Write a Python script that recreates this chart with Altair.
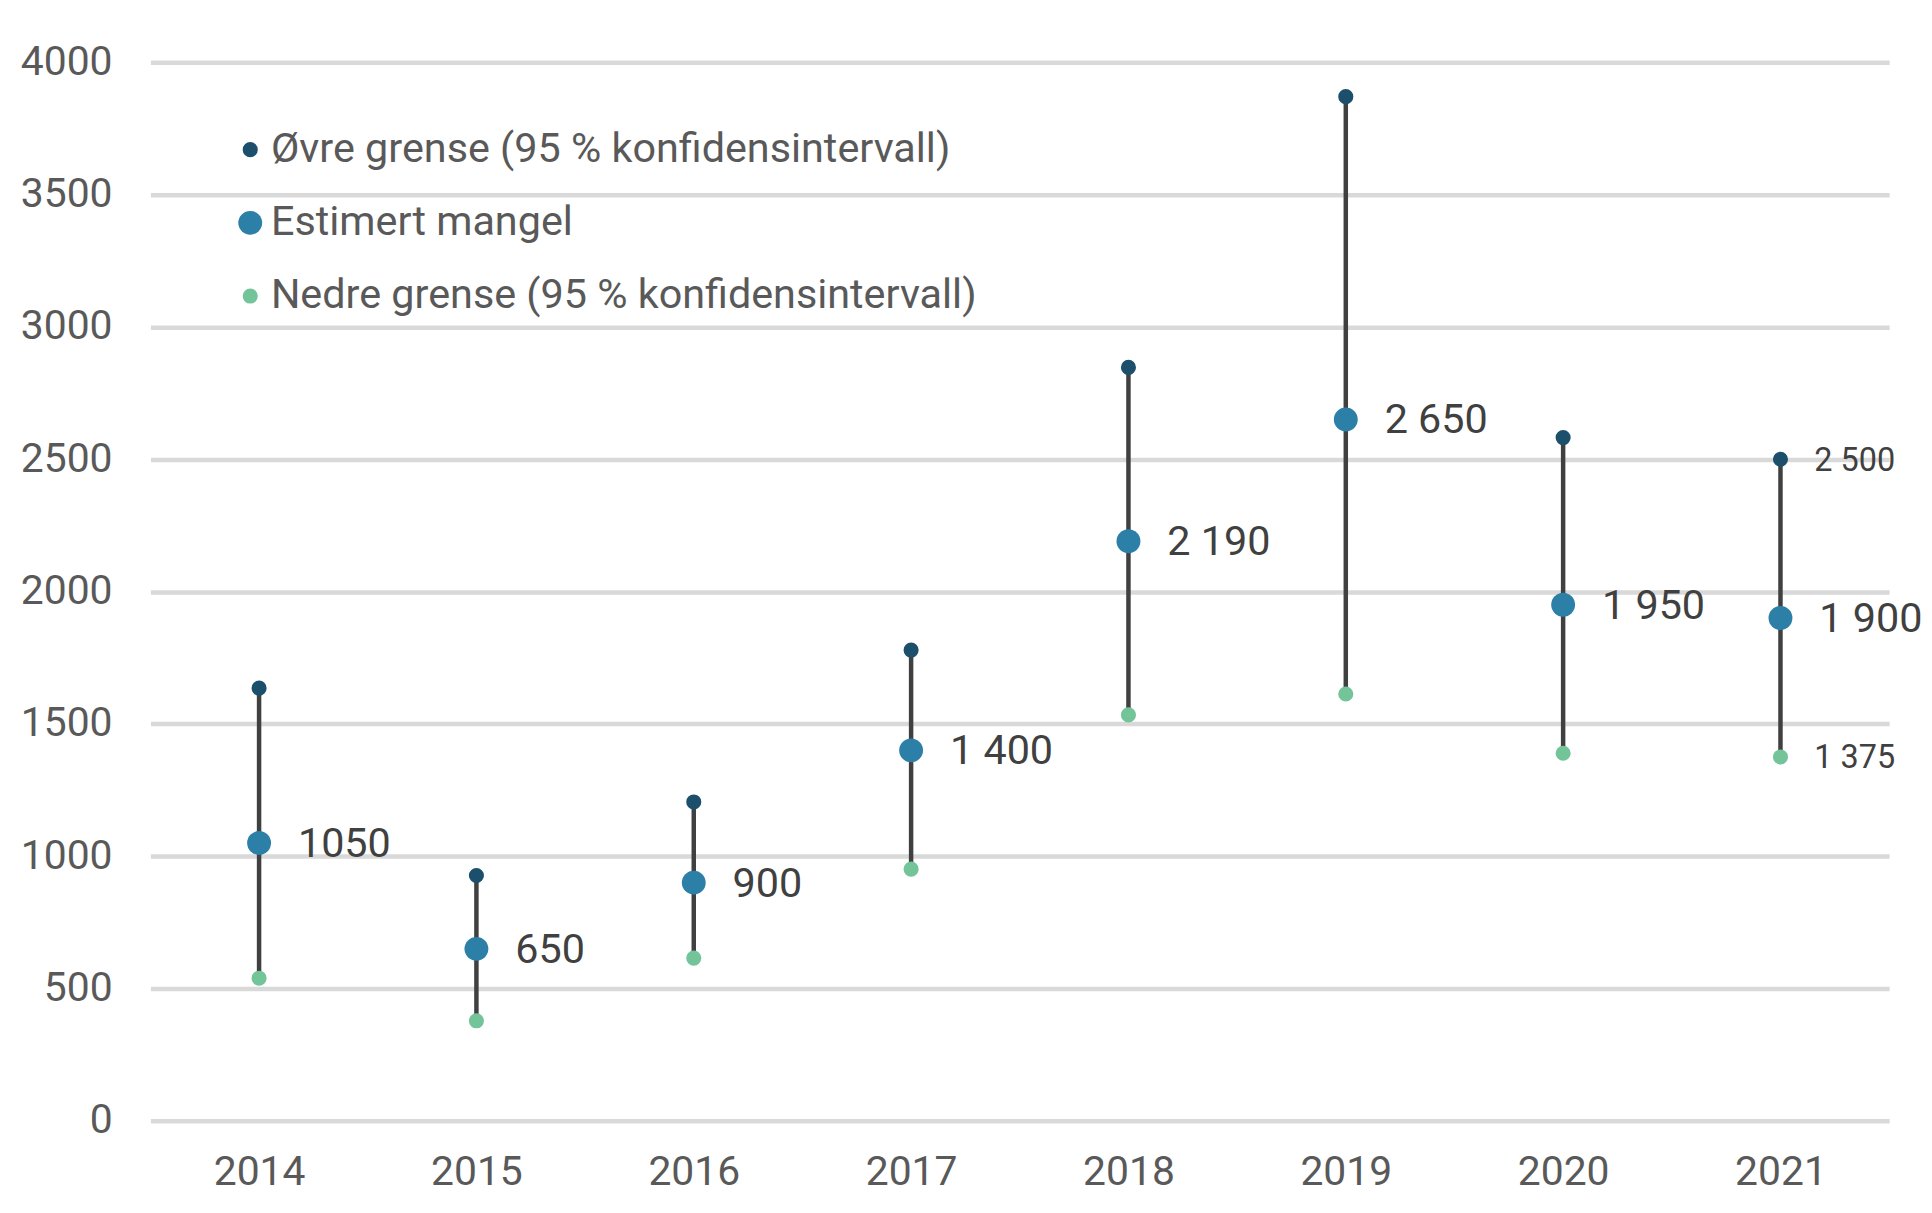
import altair as alt
import pandas as pd

years = ["2014", "2015", "2016", "2017", "2018", "2019", "2020", "2021"]
upper = [1635, 927, 1205, 1779, 2847, 3870, 2582, 2500]
estimate = [1050, 650, 900, 1400, 2190, 2650, 1950, 1900]
lower = [539, 378, 615, 951, 1534, 1613, 1389, 1375]
est_labels = ["1050", "650", "900", "1 400", "2 190", "2 650", "1 950", "1 900"]

extra_years = ["2021", "2021"]
extra_values = [2500, 1375]
extra_labels = ["2 500", "1 375"]

series_names = [
    "Øvre grense (95 % konfidensintervall)",
    "Estimert mangel",
    "Nedre grense (95 % konfidensintervall)",
]
series_colors = ["#1b4f6b", "#2c7fa6", "#74c49a"]
series_sizes = [230, 575, 230]

wide = pd.DataFrame({"year": years, "upper": upper, "estimate": estimate,
                     "lower": lower, "label": est_labels})
long_rows = []
for name, vals in zip(series_names, [upper, estimate, lower]):
    for y, v in zip(years, vals):
        long_rows.append({"year": y, "series": name, "value": v})
long = pd.DataFrame(long_rows)
extra = pd.DataFrame({"year": extra_years, "value": extra_values, "label": extra_labels})

FONT = "Roboto"

x_enc = alt.X("year:O", title=None,
              scale=alt.Scale(type="point", padding=0.5),
              axis=alt.Axis(labelAngle=0, labelFontSize=41, labelColor="#595959",
                            labelFont=FONT, ticks=False, domain=False, grid=False,
                            labelPadding=32))
y_scale = alt.Scale(domain=[0, 4000], nice=False, zero=True)
y_axis = alt.Axis(values=list(range(0, 4001, 500)), labelFontSize=41,
                  labelColor="#595959", labelFont=FONT, ticks=False, domain=False,
                  grid=True, gridColor="#d9d9d9", gridWidth=4.5, labelPadding=38.5,
                  format="d")

rules = alt.Chart(wide).mark_rule(color="#404040", strokeWidth=4.5).encode(
    x=x_enc,
    y=alt.Y("lower:Q", title=None, scale=y_scale, axis=y_axis),
    y2="upper:Q",
)

points = alt.Chart(long).mark_circle(opacity=1).encode(
    x=x_enc,
    y=alt.Y("value:Q", scale=y_scale),
    color=alt.Color("series:N", title=None,
                    scale=alt.Scale(domain=series_names, range=series_colors),
                    legend=alt.Legend(orient="none", legendX=79.5, legendY=67,
                                      labelFontSize=41.5, labelColor="#595959",
                                      labelFont=FONT, symbolType="circle",
                                      symbolStrokeWidth=0, symbolOpacity=1,
                                      rowPadding=30.5, labelOffset=0, padding=0,
                                      labelLimit=1000)),
    size=alt.Size("series:N", title=None,
                  scale=alt.Scale(type="ordinal", domain=series_names, range=series_sizes)),
)

labels = alt.Chart(wide).mark_text(align="left", baseline="middle", dx=39, dy=2,
                                   fontSize=41.5, color="#404040", font=FONT).encode(
    x=x_enc,
    y=alt.Y("estimate:Q", scale=y_scale),
    text="label:N",
)

extra_text = alt.Chart(extra).mark_text(align="left", baseline="middle", dx=34, dy=1.5,
                                        fontSize=32.5, color="#404040", font=FONT).encode(
    x=x_enc,
    y=alt.Y("value:Q", scale=y_scale),
    text="label:N",
)

chart = alt.layer(rules, points, labels, extra_text).properties(
    width=1746, height=1063,
    background="white",
    padding={"left": 143, "top": 52, "right": 35, "bottom": 82},
    autosize=alt.AutoSizeParams(type="none"),
).configure_view(strokeWidth=0, stroke="transparent")

chart.save("out.html", embed_options={"renderer": "svg", "actions": False})
